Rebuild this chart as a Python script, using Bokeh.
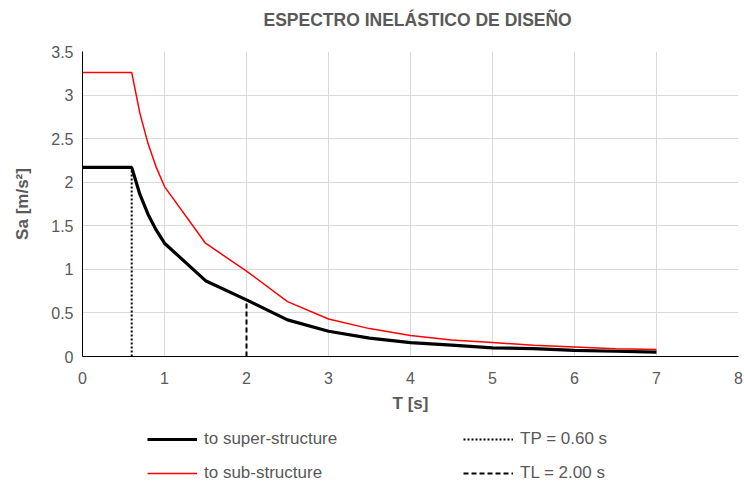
from bokeh.plotting import figure
from bokeh.layouts import column
from bokeh.models import Range1d, FixedTicker, Legend, LegendItem
from bokeh.embed import file_html
from bokeh.resources import INLINE

# ---- data ----
T = [0, 0.6, 0.7, 0.8, 0.9, 1.0, 1.5, 2.0, 2.5, 3.0, 3.5, 4.0, 4.5, 5.0, 5.5, 6.0, 6.5, 7.0]
sa_super = [2.17, 2.17, 1.86, 1.63, 1.45, 1.30, 0.87, 0.65, 0.42, 0.29, 0.21, 0.16, 0.13, 0.10, 0.09, 0.07, 0.06, 0.05]
sa_sub = [3.26, 3.26, 2.79, 2.44, 2.17, 1.95, 1.30, 0.98, 0.63, 0.43, 0.32, 0.24, 0.19, 0.16, 0.13, 0.11, 0.09, 0.08]
tp_T = [0.6, 0.6]
tp_sa = [0, 2.17]
tl_T = [2.0, 2.0]
tl_sa = [0, 0.65]

x_ticks = [0, 1, 2, 3, 4, 5, 6, 7, 8]
x_tick_labels = ["0", "1", "2", "3", "4", "5", "6", "7", "8"]
y_ticks = [0, 0.5, 1, 1.5, 2, 2.5, 3, 3.5]
y_tick_labels = ["0", "0.5", "1", "1.5", "2", "2.5", "3", "3.5"]

title_text = "ESPECTRO INELÁSTICO DE DISEÑO"
labels = ["to super-structure", "to sub-structure", "TP = 0.60 s", "TL = 2.00 s"]

FONT = "Liberation Sans"
GRAY = "#595959"

SUPER = dict(line_color="black", line_width=3.2)
SUB = dict(line_color="#ff0000", line_width=1.5)
TP = dict(line_color="black", line_width=2, line_dash="2 2")
TL = dict(line_color="black", line_width=2, line_dash="5 3")


def strip(height):
    f = figure(width=744, height=height, output_backend="svg", toolbar_location=None,
               x_axis_type=None, y_axis_type=None,
               x_range=Range1d(0, 1), y_range=Range1d(-2, -1),
               min_border=0, min_border_left=0, min_border_right=0,
               min_border_top=0, min_border_bottom=0)
    f.outline_line_color = None
    f.background_fill_color = "white"
    f.border_fill_color = "white"
    return f


# ---------------- title strip ----------------
tp_fig = strip(36)
tp_fig.title.text = title_text
tp_fig.title.align = "left"
tp_fig.title.offset = 181
tp_fig.title.text_font = FONT
tp_fig.title.text_font_size = "17.5px"
tp_fig.title.text_font_style = "bold"
tp_fig.title.text_color = GRAY
tp_fig.title.standoff = 14

# ---------------- main chart ----------------
p = figure(frame_width=656, frame_height=305, output_backend="svg", toolbar_location=None,
           x_range=Range1d(0, 8), y_range=Range1d(0, 3.5),
           min_border_left=82, min_border_right=6, min_border_top=15, min_border_bottom=64)
p.title.text = ""
p.title.standoff = 0
p.title.text_font_size = "1px"

p.outline_line_color = None
p.background_fill_color = "white"
p.border_fill_color = "white"

for g in (p.xgrid, p.ygrid):
    g.grid_line_color = "#d9d9d9"
    g.grid_line_width = 1
p.xgrid.ticker = FixedTicker(ticks=x_ticks)
p.ygrid.ticker = FixedTicker(ticks=y_ticks)

p.xaxis.ticker = FixedTicker(ticks=x_ticks)
p.yaxis.ticker = FixedTicker(ticks=y_ticks)
p.xaxis.major_label_overrides = {t: l for t, l in zip(x_ticks, x_tick_labels)}
p.yaxis.major_label_overrides = {t: l for t, l in zip(y_ticks, y_tick_labels)}

for ax in (p.xaxis, p.yaxis):
    ax.axis_line_color = "black"
    ax.axis_line_width = 1
    ax.major_tick_line_color = None
    ax.minor_tick_line_color = None
    ax.major_tick_in = 0
    ax.major_tick_out = 0
    ax.major_label_text_font = FONT
    ax.major_label_text_font_size = "16px"
    ax.major_label_text_color = GRAY
    ax.axis_label_text_font = FONT
    ax.axis_label_text_font_size = "17px"
    ax.axis_label_text_font_style = "bold"
    ax.axis_label_text_color = GRAY

p.xaxis.axis_label = "T [s]"
p.yaxis.axis_label = "Sa [m/s²]"
p.xaxis.major_label_standoff = 15
p.yaxis.major_label_standoff = 9
p.xaxis.axis_label_standoff = 7
p.yaxis.axis_label_standoff = 16

p.line(tp_T, tp_sa, **TP)
p.line(tl_T, tl_sa, **TL)
p.line(T, sa_sub, **SUB)
p.line(T, sa_super, **SUPER)

# ---------------- legend strip ----------------
lp = strip(63)
# same series, outside this strip's visible range: only their legend glyphs show
k_sup = lp.line(T, sa_super, **SUPER)
k_sub = lp.line(T, sa_sub, **SUB)
k_tp = lp.line(tp_T, tp_sa, **TP)
k_tl = lp.line(tl_T, tl_sa, **TL)

legend = Legend(items=[
    LegendItem(label=labels[0], renderers=[k_sup]),
    LegendItem(label=labels[1], renderers=[k_sub]),
    LegendItem(label=labels[2], renderers=[k_tp]),
    LegendItem(label=labels[3], renderers=[k_tl]),
], location=(65, 0), ncols=2)
legend.label_text_font = FONT
legend.label_text_font_size = "17px"
legend.label_text_color = GRAY
legend.glyph_width = 50
legend.glyph_height = 16
legend.label_height = 16
legend.label_standoff = 7
legend.spacing = 14
legend.label_width = 245
legend.padding = 0
legend.margin = 0
legend.border_line_color = None
legend.background_fill_alpha = 0
lp.add_layout(legend, "center")

layout = column(tp_fig, p, lp, spacing=0)

open("out.html", "w").write(file_html(layout, INLINE))
